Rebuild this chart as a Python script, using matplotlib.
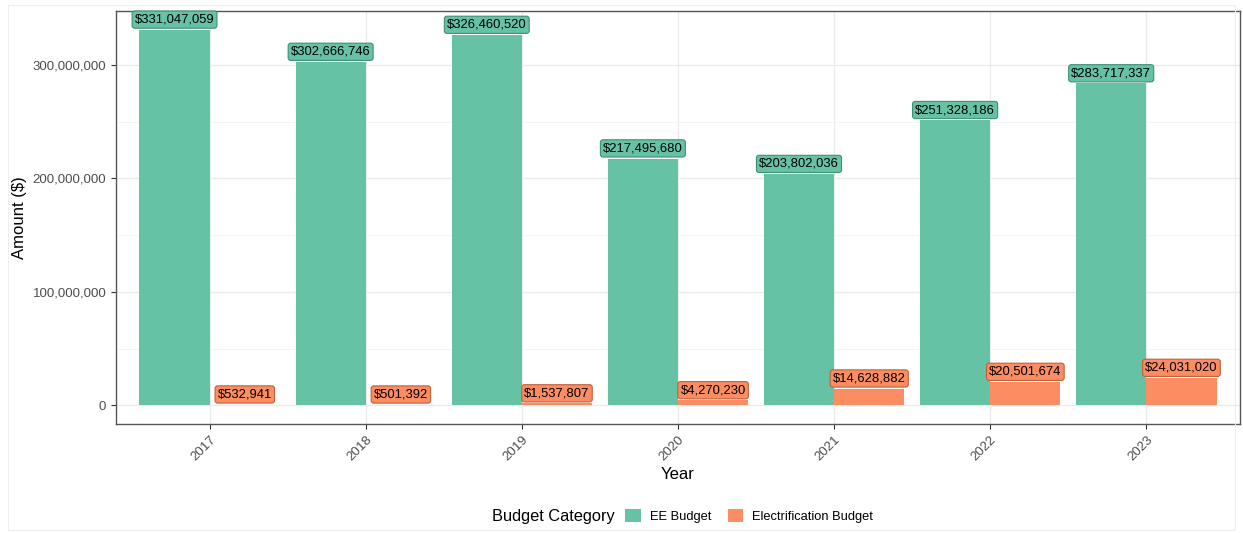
import matplotlib
matplotlib.use("Agg")
import matplotlib.pyplot as plt
from matplotlib.patches import Patch, Rectangle
from matplotlib.ticker import FuncFormatter, MultipleLocator
import numpy as np

plt.rcParams['font.family'] = ['Liberation Sans', 'DejaVu Sans']

years = ["2017", "2018", "2019", "2020", "2021", "2022", "2023"]
ee_budget = [331047059, 302666746, 326460520, 217495680, 203802036, 251328186, 283717337]
elec_budget = [532941, 501392, 1537807, 4270230, 14628882, 20501674, 24031020]
series_names = ["EE Budget", "Electrification Budget"]
colors = ["#66C2A5", "#FC8D62"]
edge_colors = ["#3f8f75", "#c0603a"]

fig = plt.figure(figsize=(12.43, 5.33), dpi=100)
ax = fig.add_axes([116/1243, 1-424/533, (1240-116)/1243, (424-11)/533])

x = np.arange(len(years))
w = 0.45
for i, (vals, name) in enumerate(zip([ee_budget, elec_budget], series_names)):
    pos = x + (i - 0.5) * w
    ax.bar(pos, vals, width=w, color=colors[i], label=name, zorder=2)
    for px, v in zip(pos, vals):
        ax.annotate(f"${v:,.0f}", xy=(px, v), xytext=(0, 3), textcoords="offset points",
                    ha="center", va="bottom", fontsize=9.4, color="black", zorder=4,
                    bbox=dict(boxstyle="round,pad=0.2,rounding_size=0.2", fc=colors[i],
                              ec=edge_colors[i], lw=0.8))

ymax = max(ee_budget)
ax.set_ylim(-0.05*ymax, 1.05*ymax)
ax.set_xlim(-0.6, len(years) - 1 + 0.6)
ax.set_xticks(x)
ax.set_xticklabels(years, rotation=45, ha="right", rotation_mode="anchor")
ax.yaxis.set_major_locator(MultipleLocator(1e8))
ax.yaxis.set_minor_locator(MultipleLocator(5e7))
ax.yaxis.set_major_formatter(FuncFormatter(lambda v, p: f"{v:,.0f}"))

ax.grid(True, which="major", color="#EBEBEB", lw=1.0, zorder=0)
ax.grid(True, which="minor", axis="y", color="#F4F4F4", lw=0.6, zorder=0)
ax.set_axisbelow(True)
for s in ax.spines.values():
    s.set_color("#555555")
    s.set_linewidth(1.0)
ax.tick_params(axis="both", which="major", colors="#333333", labelcolor="#4D4D4D",
               labelsize=9.5, length=3.5, width=0.8)
ax.tick_params(axis="both", which="minor", length=0)

ax.set_ylabel("Amount ($)", fontsize=12, color="black", labelpad=4)
ax.set_xlabel("Year", fontsize=12, color="black", labelpad=3)

# legend
fig.text(615/1243, 1-516/533, "Budget Category", ha="right", va="center", fontsize=11.8)
handles = [Patch(facecolor=c, edgecolor="none") for c in colors]
fig.legend(handles, series_names, loc="center left", bbox_to_anchor=(620/1243, 1-516/533),
           ncol=2, frameon=False, fontsize=9.3, handlelength=1.2, handleheight=1.2,
           handletextpad=0.7, columnspacing=1.3, borderaxespad=0)

fig.patches.append(Rectangle((8/1243, 3/533), 1-16/1243, 1-8/533, transform=fig.transFigure,
                             fill=False, ec="#EEEEEE", lw=0.8))

fig.savefig("out.png", dpi=100)
